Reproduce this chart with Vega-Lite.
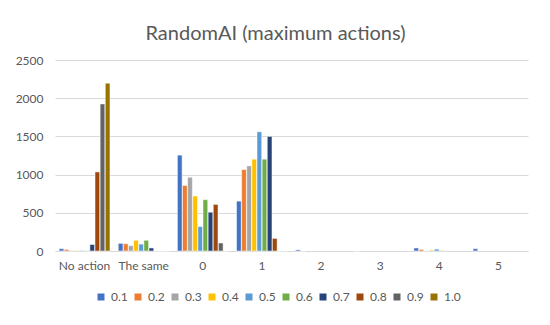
{
  "$schema": "https://vega.github.io/schema/vega-lite/v6.json",
  "width": 473,
  "height": 191,
  "autosize": "none",
  "padding": {"left": 55, "top": 60, "right": 22, "bottom": 74},
  "background": "white",
  "title": {"text": "RandomAI (maximum actions)", "fontSize": 20, "font": "Lato", "fontWeight": "normal", "color": "#595959", "anchor": "middle", "dx": -16, "offset": 10},
  "config": {"view": {"stroke": null}, "font": "Lato"},
  "data": {"values": [
    {"cat": "No action", "s": "0.1", "v": 30},
    {"cat": "No action", "s": "0.2", "v": 20},
    {"cat": "No action", "s": "0.3", "v": 5},
    {"cat": "No action", "s": "0.4", "v": 5},
    {"cat": "No action", "s": "0.5", "v": 6},
    {"cat": "No action", "s": "0.6", "v": 3},
    {"cat": "No action", "s": "0.7", "v": 85},
    {"cat": "No action", "s": "0.8", "v": 1035},
    {"cat": "No action", "s": "0.9", "v": 1925},
    {"cat": "No action", "s": "1.0", "v": 2197},
    {"cat": "The same", "s": "0.1", "v": 100},
    {"cat": "The same", "s": "0.2", "v": 95},
    {"cat": "The same", "s": "0.3", "v": 70},
    {"cat": "The same", "s": "0.4", "v": 140},
    {"cat": "The same", "s": "0.5", "v": 90},
    {"cat": "The same", "s": "0.6", "v": 140},
    {"cat": "The same", "s": "0.7", "v": 40},
    {"cat": "The same", "s": "0.8", "v": 0},
    {"cat": "The same", "s": "0.9", "v": 0},
    {"cat": "The same", "s": "1.0", "v": 0},
    {"cat": "0", "s": "0.1", "v": 1255},
    {"cat": "0", "s": "0.2", "v": 858},
    {"cat": "0", "s": "0.3", "v": 965},
    {"cat": "0", "s": "0.4", "v": 720},
    {"cat": "0", "s": "0.5", "v": 320},
    {"cat": "0", "s": "0.6", "v": 672},
    {"cat": "0", "s": "0.7", "v": 508},
    {"cat": "0", "s": "0.8", "v": 610},
    {"cat": "0", "s": "0.9", "v": 105},
    {"cat": "0", "s": "1.0", "v": 0},
    {"cat": "1", "s": "0.1", "v": 653},
    {"cat": "1", "s": "0.2", "v": 1066},
    {"cat": "1", "s": "0.3", "v": 1114},
    {"cat": "1", "s": "0.4", "v": 1202},
    {"cat": "1", "s": "0.5", "v": 1560},
    {"cat": "1", "s": "0.6", "v": 1202},
    {"cat": "1", "s": "0.7", "v": 1500},
    {"cat": "1", "s": "0.8", "v": 165},
    {"cat": "1", "s": "0.9", "v": 0},
    {"cat": "1", "s": "1.0", "v": 0},
    {"cat": "2", "s": "0.1", "v": 15},
    {"cat": "2", "s": "0.2", "v": 0},
    {"cat": "3", "s": "0.1", "v": 0},
    {"cat": "4", "s": "0.1", "v": 40},
    {"cat": "4", "s": "0.2", "v": 20},
    {"cat": "4", "s": "0.3", "v": 3},
    {"cat": "4", "s": "0.4", "v": 12},
    {"cat": "4", "s": "0.5", "v": 25},
    {"cat": "4", "s": "0.6", "v": 5},
    {"cat": "5", "s": "0.1", "v": 30}
  ]},
  "mark": {"type": "bar", "stroke": "white", "strokeWidth": 0.5},
  "encoding": {
    "x": {"field": "cat", "type": "nominal", "sort": ["No action", "The same", "0", "1", "2", "3", "4", "5"],
      "scale": {"paddingInner": 0.14, "paddingOuter": 0.07},
      "axis": {"title": null, "labelAngle": 0, "labelFontSize": 12, "labelColor": "#595959", "labelPadding": 9, "ticks": false, "domainColor": "#d9d9d9", "domainWidth": 1}},
    "xOffset": {"field": "s", "type": "nominal", "sort": ["0.1","0.2","0.3","0.4","0.5","0.6","0.7","0.8","0.9","1.0"], "scale": {"paddingInner": 0.08}},
    "y": {"field": "v", "type": "quantitative", "scale": {"domain": [0, 2500]},
      "axis": {"title": null, "values": [0, 500, 1000, 1500, 2000, 2500], "format": "d", "labelFontSize": 12, "labelColor": "#595959", "labelPadding": 12, "ticks": false, "domain": false, "gridColor": "#d9d9d9", "gridWidth": 1}},
    "color": {"field": "s", "type": "nominal", "sort": ["0.1","0.2","0.3","0.4","0.5","0.6","0.7","0.8","0.9","1.0"],
      "scale": {"range": ["#4472C4", "#ED7D31", "#A5A5A5", "#FFC000", "#5B9BD5", "#70AD47", "#264478", "#9E480E", "#636363", "#997300"]},
      "legend": {"title": null, "orient": "none", "direction": "horizontal", "legendX": 40, "legendY": 231, "symbolType": "square", "symbolSize": 49, "symbolStrokeWidth": 0, "labelFontSize": 12, "labelColor": "#595959", "labelOffset": 4, "columnPadding": 4, "columns": 10}}
  }
}
